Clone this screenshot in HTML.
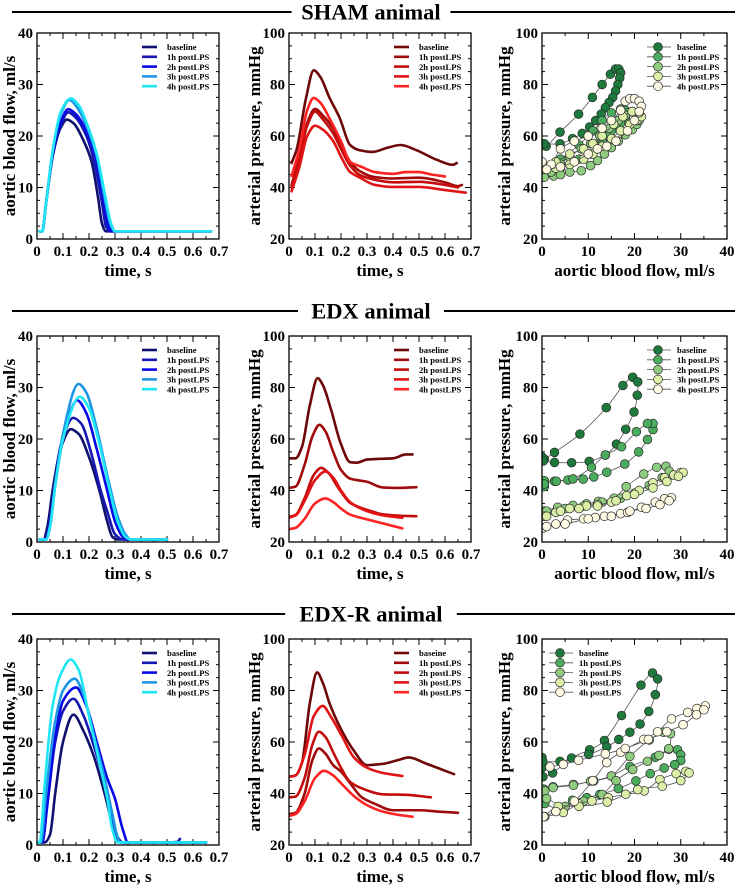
<!DOCTYPE html>
<html><head><meta charset="utf-8">
<style>
html,body{margin:0;padding:0;background:#fff;}
svg{display:block;font-family:"Liberation Serif",serif;font-weight:bold;}
</style></head>
<body>
<svg id="fig" width="742" height="886" viewBox="0 0 742 886" xmlns="http://www.w3.org/2000/svg"></svg>
<script>
// ---------- DATA ----------
const seriesNames = ["baseline","1h postLPS","2h postLPS","3h postLPS","4h postLPS"];
const seriesNamesR = ["baseine","1h postLPS","2h postLPS","3h postLPS","4h postLPS"];
const flowTicksX = [0,0.1,0.2,0.3,0.4,0.5,0.6,0.7];
const flowTicksY = [0,10,20,30,40];
const presTicksY = [20,40,60,80,100];
const loopTicksX = [0,10,20,30,40];

// SHAM flow [t, ml/s]
const shamFlowBase = [[0.01,1.5],[0.02,1.5],[0.035,7],[0.06,16],[0.09,21.5],[0.115,23.2],[0.14,22.5],[0.18,19],[0.21,15],[0.235,8],[0.25,3],[0.265,1.5],[0.67,1.5]];
const shamFlow1h = [[0.01,1.5],[0.02,1.5],[0.035,7],[0.06,16],[0.09,22],[0.12,24.6],[0.15,23.5],[0.19,20],[0.22,15],[0.25,7],[0.265,2.5],[0.28,1.5],[0.67,1.5]];
const shamFlow2h = [[0.01,1.5],[0.02,1.5],[0.035,7],[0.06,16.5],[0.09,22.5],[0.12,25.2],[0.15,24.2],[0.19,21],[0.225,16],[0.255,8],[0.275,2.5],[0.29,1.5],[0.67,1.5]];
const shamFlow3h = [[0.01,1.5],[0.02,1.5],[0.035,7],[0.06,17],[0.09,24],[0.125,27],[0.155,25.5],[0.19,22],[0.23,16],[0.26,8],[0.285,2.5],[0.3,1.5],[0.67,1.5]];
const shamFlow4h = [[0.01,1.5],[0.02,1.5],[0.035,7],[0.06,17],[0.09,24.5],[0.13,27.3],[0.16,26],[0.195,22],[0.23,16.5],[0.26,9],[0.285,3],[0.3,1.5],[0.67,1.5]];
// EDX flow
const edxFlowBase = [[0.01,0.5],[0.025,0.5],[0.04,3],[0.06,10],[0.09,18],[0.13,21.9],[0.16,21],[0.2,16.5],[0.24,10],[0.27,4],[0.29,1],[0.31,0.5],[0.5,0.5]];
const edxFlow1h = [[0.01,0.5],[0.03,0.5],[0.045,3],[0.065,10],[0.09,18.5],[0.14,24.1],[0.17,23],[0.21,17],[0.245,10],[0.27,6],[0.3,1.5],[0.33,0.5],[0.5,0.5]];
const edxFlow2h = [[0.01,0.5],[0.035,0.5],[0.05,3],[0.07,11],[0.1,20],[0.155,27.5],[0.19,25],[0.23,18],[0.27,10],[0.3,4],[0.33,1],[0.35,0.5],[0.5,0.5]];
const edxFlow3h = [[0.01,0.5],[0.035,0.5],[0.05,3],[0.07,11],[0.1,21],[0.16,30.7],[0.19,29],[0.23,22],[0.27,13],[0.31,5],[0.34,1.5],[0.36,0.5],[0.5,0.5]];
const edxFlow4h = [[0.01,0.5],[0.035,0.5],[0.05,3],[0.07,11],[0.1,20],[0.165,28.2],[0.2,26],[0.24,19],[0.28,10],[0.31,4],[0.34,1],[0.36,0.5],[0.5,0.5]];
// EDX-R flow
const edxrFlowBase = [[0,0.5],[0.03,0.5],[0.05,2],[0.07,10],[0.1,20],[0.14,25.3],[0.18,22],[0.22,17],[0.26,10],[0.29,4],[0.31,1],[0.33,0.5],[0.65,0.5]];
const edxrFlow1h = [[0,0.5],[0.02,0.5],[0.04,8],[0.07,20],[0.1,26],[0.14,28.4],[0.18,25],[0.22,19],[0.26,12],[0.29,5],[0.31,1.5],[0.33,0.5],[0.5,0.5],[0.54,0.6],[0.55,1.2]];
const edxrFlow2h = [[0,0.5],[0.02,0.5],[0.04,8],[0.07,21],[0.1,28],[0.15,30.6],[0.19,27],[0.23,20],[0.27,13],[0.3,9],[0.33,3],[0.35,0.5],[0.65,0.5]];
const edxrFlow3h = [[0,0.5],[0.015,0.5],[0.035,10],[0.07,24],[0.1,30],[0.145,32.3],[0.18,29],[0.22,21],[0.26,13],[0.29,6],[0.31,1.5],[0.32,0.5],[0.65,0.5]];
const edxrFlow4h = [[0,0.5],[0.01,0.5],[0.03,12],[0.06,27],[0.09,33],[0.13,36],[0.16,34],[0.2,25],[0.24,16],[0.27,9],[0.29,3],[0.31,0.5],[0.65,0.5]];

// SHAM pressure [t, mmHg]
const shamPresBase = [[0.01,49.5],[0.03,55],[0.065,74.5],[0.095,85.5],[0.12,83],[0.155,75],[0.195,67],[0.235,56.5],[0.27,54.5],[0.32,53.8],[0.38,55.5],[0.43,56.5],[0.49,54.5],[0.57,50.7],[0.63,48.8],[0.645,49.5]];
const shamPres1h = [[0.01,40],[0.04,50],[0.07,65],[0.1,70.5],[0.13,68],[0.17,63],[0.2,57],[0.235,50],[0.27,46.5],[0.33,44],[0.4,43.5],[0.5,43.8],[0.6,42],[0.65,40.5],[0.665,41]];
const shamPres2h = [[0.01,41],[0.04,52],[0.07,64],[0.1,69.5],[0.13,66.5],[0.17,61],[0.2,55],[0.235,48.5],[0.27,45],[0.33,43],[0.4,42],[0.5,42.2],[0.6,41],[0.65,40]];
const shamPres3h = [[0.01,38.5],[0.04,48],[0.07,60],[0.1,64],[0.13,62.5],[0.17,58],[0.2,52],[0.235,46],[0.27,44],[0.33,41],[0.4,40.2],[0.5,40.2],[0.6,39],[0.68,38]];
const shamPres4h = [[0.01,44.5],[0.04,55],[0.07,70],[0.095,74.8],[0.12,73],[0.16,66],[0.2,58],[0.235,50],[0.28,48],[0.33,46],[0.4,45.3],[0.45,46],[0.5,46],[0.55,45],[0.6,44.3]];
// EDX pressure
const edxPresBase = [[0,52.5],[0.025,52.5],[0.05,57],[0.08,73],[0.11,83.6],[0.13,81],[0.16,72],[0.2,58],[0.235,51],[0.26,50.8],[0.3,52],[0.35,52.3],[0.4,52.5],[0.45,54],[0.475,54]];
const edxPres1h = [[0,41],[0.025,41.5],[0.06,50],[0.09,61],[0.117,65.5],[0.14,63],[0.17,55],[0.2,48],[0.235,44.6],[0.3,43.4],[0.36,41.2],[0.42,41],[0.49,41.3]];
const edxPres2h = [[0,29.7],[0.025,30.5],[0.06,37],[0.095,46],[0.124,48.8],[0.15,47],[0.19,41],[0.235,35.2],[0.3,32.5],[0.364,30.7],[0.43,30.2],[0.49,30]];
const edxPres3h = [[0,29.5],[0.025,30.3],[0.06,36],[0.1,44],[0.14,47.4],[0.17,45],[0.2,40],[0.235,35.5],[0.3,32],[0.364,30.3],[0.436,29.4]];
const edxPres4h = [[0,25],[0.025,25.5],[0.06,29],[0.1,35],[0.14,36.9],[0.17,35.5],[0.2,33],[0.234,30.7],[0.3,28.8],[0.37,27],[0.436,25.3]];
// EDX-R pressure
const edxrPresBase = [[0,46.5],[0.025,47],[0.05,52],[0.08,75],[0.108,87],[0.13,83],[0.156,75],[0.195,66],[0.247,57],[0.3,51],[0.36,51.5],[0.42,53],[0.46,54],[0.53,51.5],[0.635,47.5]];
const edxrPres1h = [[0,32],[0.025,32.5],[0.06,40],[0.09,53],[0.115,57.5],[0.14,55.5],[0.17,51],[0.2,48.5],[0.235,44],[0.28,38.5],[0.33,36],[0.4,33.5],[0.5,33.5],[0.57,33],[0.65,32.5]];
const edxrPres2h = [[0,38.5],[0.025,38.8],[0.06,46],[0.09,59],[0.115,64],[0.14,62],[0.17,56],[0.2,50],[0.235,44.5],[0.28,42],[0.36,39.7],[0.45,39.5],[0.546,38.5]];
const edxrPres3h = [[0,46.5],[0.025,47],[0.06,55],[0.095,70],[0.13,74],[0.16,70],[0.2,63],[0.25,54],[0.3,50],[0.36,48],[0.436,46.8]];
const edxrPres4h = [[0,31.3],[0.025,32],[0.06,37],[0.1,46],[0.135,48.8],[0.17,47],[0.2,44],[0.25,39],[0.3,35.5],[0.36,33],[0.42,31.7],[0.475,31]];

// SHAM loops [flow ml/s, pressure mmHg]
const shamLoopBase = [[0,57],[0.9,56],[3.9,61.5],[7.9,68.5],[10.9,75],[13,80],[14.8,84],[15.9,86],[16.6,86],[17,84.5],[16.8,82.5],[16.4,80],[15.9,77.5],[15.3,75],[14.5,73],[13.7,71],[12.8,68.5],[11.6,66],[10.3,63.5],[8.7,61],[6.6,59],[3.9,57],[0.5,57]];
const shamLoop1h = [[0,46],[1,47.5],[4,51],[8,56.5],[11,62],[13,66],[15,69],[17,70.5],[18,70],[18.5,69],[18,67],[17,65],[16,63.5],[15,62],[14,60],[13,58],[12,56],[10.5,53],[8,51],[6,49],[4,47.5],[1,47.5]];
const shamLoop2h = [[0.5,44],[2.5,44.5],[4,45],[6,46],[8.5,46.5],[10.5,48.5],[12,50.5],[13.5,53],[15,55.5],[16.5,58],[18,60.5],[19.5,62.5],[20.5,64.5],[21,66],[20.5,68],[19.5,69.5],[18,68],[16.5,66],[14.5,63],[12.5,60],[10.5,57],[8.5,55],[6,52],[4,49],[2,46]];
const shamLoop3h = [[0.5,47],[3,47.5],[6,49],[9,51],[11,53],[13,56],[15,59],[17,62],[19,64.5],[20.5,66],[21.5,67.5],[21,69],[19.5,69.5],[17.5,67.5],[15.5,64.5],[13,60],[11,57],[9,55],[6,53],[3,50],[0.5,48]];
const shamLoop4h = [[0,50],[2,49],[4,55],[7,58],[10,60],[13,63],[15,66],[17,70],[18,73.5],[19,74.5],[20,74.5],[21,73.5],[21.5,71.5],[21,69.5],[20,66],[18.5,62],[16,58],[14,56],[12,55],[10,53],[7,50],[4,48],[1,47]];
// EDX loops
const edxLoopBase = [[0,53],[0.5,52.2],[2.7,54.8],[8.2,61.9],[13.9,72.2],[17.5,80.8],[19.6,84],[20.7,82.2],[20.6,77],[19.9,70.5],[18.1,63.8],[16.1,58],[13.7,53.8],[10.2,51.3],[6.4,50.8],[2.7,50.9],[0.3,51.5]];
const edxLoop1h = [[0.5,41.5],[0.5,43.8],[2.7,43.6],[5.6,44.1],[8.9,44.4],[11.2,45.3],[14,47.1],[17.9,50.3],[20.9,55],[22.8,59.8],[24,63.7],[24,66],[22.8,66],[20.4,62.8],[17.2,57],[13.7,53.8],[10.7,49],[6.7,44.5],[3.1,43.6],[0.5,42.5]];
const edxLoop2h = [[0.5,32],[3.4,33.5],[6.7,34.2],[9.6,34.8],[12.2,35.8],[15.6,37],[18.2,41.5],[22,46.4],[24.8,49],[26.8,49.4],[27.5,47.5],[26,45],[23.2,42],[20,39],[17,37],[13,35.5],[9,34],[5,33],[1,32]];
const edxLoop3h = [[0.5,30],[3,31.5],[6,33],[9.6,34],[12,34.5],[15,35.5],[18.3,38],[21,40],[24,43],[26.5,45],[28.5,46],[30,47],[30.5,47],[29.5,45.5],[27,43.5],[24,41],[20,38.5],[16,36],[12,34],[8,33],[4,32],[1,30]];
const edxLoop4h = [[0.3,25.5],[3,27],[5.5,28.5],[9,29],[11.5,29.5],[13.5,30],[17,31],[18.5,31.5],[21.5,33.5],[24.5,35.5],[26.5,36.8],[28,37.2],[27.5,36],[25.5,34.5],[22.5,33],[19,32],[15,30],[10,29],[5,27],[1,26]];
// EDX-R loops
const edxrLoopBase = [[0,54],[0,50],[0.2,46.5],[2.3,48],[6.4,53.8],[10.3,57],[13.5,60.6],[17.2,70.3],[21.4,82.1],[23.9,86.8],[25,84.5],[24.5,78.4],[23.1,71.9],[21.2,67],[19,63.8],[16.6,61],[14,58.1],[10.1,55.2],[3.9,52.5],[0.2,52.5]];
const edxrLoop1h = [[0.4,41.7],[2.4,42.6],[6.8,43.5],[11.2,44.9],[15,46.8],[19,50.5],[24.5,54.1],[27.4,57.2],[29.3,57],[30,55],[30,52.8],[28.7,51.2],[26.4,49.9],[23.4,47.7],[20.3,44.9],[16.5,41.9],[12.5,39.6],[9.7,38.4],[6.6,37.4],[3.9,33.9],[0.6,36.1]];
const edxrLoop2h = [[0.6,41],[2.4,42.3],[6.8,43.2],[10.5,44.8],[15,46.8],[19,54.4],[23.2,60.8],[26.3,63.8],[27.8,63.2],[27.4,57.4],[25.3,54.8],[22.8,52.5],[19.6,49.3],[16,45],[13,39.6],[9,37],[5,35],[1,38]];
const edxrLoop3h = [[0.6,31],[4.6,32.6],[7.9,36],[10.8,37.1],[14.3,38.4],[18.1,39.7],[22.1,41],[25.5,45.4],[29,47.7],[31.1,48.6],[31.8,48],[30,45],[26,42.8],[20.7,41.5],[14.1,36.7],[8,35],[3.5,35],[0.4,31]];
const edxrLoop4h = [[0.4,31],[3,33],[7,37],[11,45],[14,52],[17,56],[22,61],[25,64],[28,69],[31.5,71.5],[33.5,73],[35.3,74],[35,72.5],[33.4,70.6],[30.5,66.7],[27,64],[23,61],[18,57.5],[13.7,55.4],[7.9,52.9],[4.6,51.3],[1.7,50.3]];

const flowColors = ["#10106e","#1717b4","#0808e6","#1e96e6","#1ee6f5"];
const presColors = ["#6e0808","#a00a0a","#c40c0c","#e01414","#ff2222"];
const loopColors = ["#1e7a3c","#4aac5c","#90cc80","#dcefa6","#fffae4"];

// ---------- DRAW ----------
const NS = "http://www.w3.org/2000/svg";
const svg = document.getElementById("fig");
function mk(tag, attrs, parent){
  const e = document.createElementNS(NS, tag);
  for (const k in attrs) e.setAttribute(k, attrs[k]);
  (parent||svg).appendChild(e);
  return e;
}
function smoothPath(pts){
  if (pts.length < 2) return "";
  let d = "M" + pts[0][0].toFixed(2) + "," + pts[0][1].toFixed(2);
  for (let i=0;i<pts.length-1;i++){
    const p0 = pts[i-1]||pts[i], p1 = pts[i], p2 = pts[i+1], p3 = pts[i+2]||p2;
    const c1x = p1[0]+(p2[0]-p0[0])/6, c1y = p1[1]+(p2[1]-p0[1])/6;
    const c2x = p2[0]-(p3[0]-p1[0])/6, c2y = p2[1]-(p3[1]-p1[1])/6;
    d += " C"+c1x.toFixed(2)+","+c1y.toFixed(2)+" "+c2x.toFixed(2)+","+c2y.toFixed(2)+" "+p2[0].toFixed(2)+","+p2[1].toFixed(2);
  }
  return d;
}
function monoPath(pts){
  const n = pts.length;
  if (n < 2) return "";
  const dx=[], s=[];
  for (let i=0;i<n-1;i++){ dx[i]=pts[i+1][0]-pts[i][0]; s[i]=(pts[i+1][1]-pts[i][1])/dx[i]; }
  const m=[s[0]];
  for (let i=1;i<n-1;i++){
    if (s[i-1]*s[i] <= 0) m[i]=0;
    else { const w1=2*dx[i]+dx[i-1], w2=dx[i]+2*dx[i-1]; m[i]=(w1+w2)/(w1/s[i-1]+w2/s[i]); }
  }
  m[n-1]=s[n-2];
  let d = "M"+pts[0][0].toFixed(2)+","+pts[0][1].toFixed(2);
  for (let i=0;i<n-1;i++){
    const h=dx[i]/3;
    d += " C"+(pts[i][0]+h).toFixed(2)+","+(pts[i][1]+m[i]*h).toFixed(2)+" "+(pts[i+1][0]-h).toFixed(2)+","+(pts[i+1][1]-m[i+1]*h).toFixed(2)+" "+pts[i+1][0].toFixed(2)+","+pts[i+1][1].toFixed(2);
  }
  return d;
}

function sectionTitle(text, y, key){
  const ln = mk("line",{x1:12,y1:y,x2:735,y2:y,stroke:"#000","stroke-width":2});
  
  
  const w = text.length*12.8+18;
  mk("rect",{x:371-w/2,y:y-13,width:w,height:26,fill:"#fff"});
  const t = mk("text",{x:371,y:y+7.5,"text-anchor":"middle","font-size":22.5});
  t.textContent = text;
  
  
}

function panel(o){
  const g = mk("g",{});
  
  
  const L=o.x, T=o.y, W=o.w, H=o.h;
  const sx = v => L + (v-o.xmin)/(o.xmax-o.xmin)*W;
  const sy = v => T + H - (v-o.ymin)/(o.ymax-o.ymin)*H;
  const cid = "c"+o.name;
  const cp = mk("clipPath",{id:cid},g); mk("rect",{x:L,y:T,width:W,height:H},cp);
  for (let v=o.xmin; v<=o.xmax+1e-9; v+=o.xminor){
    const X=sx(v);
    const isMaj = o.xt.some(t=>Math.abs(t-v)<1e-9);
    const len = isMaj?6:3;
    mk("line",{x1:X,y1:T+H,x2:X,y2:T+H-len,stroke:"#000","stroke-width":1},g);
    mk("line",{x1:X,y1:T,x2:X,y2:T+len,stroke:"#000","stroke-width":1},g);
  }
  for (let v=o.ymin; v<=o.ymax+1e-9; v+=o.yminor){
    const Y=sy(v);
    const isMaj = o.yt.some(t=>Math.abs(t-v)<1e-9);
    const len = isMaj?6:3;
    mk("line",{x1:L,y1:Y,x2:L+len,y2:Y,stroke:"#000","stroke-width":1},g);
    mk("line",{x1:L+W,y1:Y,x2:L+W-len,y2:Y,stroke:"#000","stroke-width":1},g);
  }
  o.xt.forEach((v,i)=>{
    const t = mk("text",{x:sx(v),y:T+H+17,"text-anchor":"middle","font-size":15},g);
    t.textContent = o.xtl[i];
    
    
  });
  o.yt.forEach(v=>{
    const t = mk("text",{x:L-4,y:sy(v)+5,"text-anchor":"end","font-size":15},g);
    t.textContent = String(v);
    
    
  });
  const xt = mk("text",{x:L+W/2,y:T+H+37,"text-anchor":"middle","font-size":17},g);
  xt.textContent = o.xlabel;
  
  
  const yx = o.ylx, yy = T+H/2;
  const yt = mk("text",{x:yx,y:yy,"text-anchor":"middle","font-size":17,transform:"rotate(-90 "+yx+" "+yy+")"},g);
  yt.textContent = o.ylabel;
  
  
  const sg = mk("g",{"clip-path":"url(#"+cid+")"},g);
  o.series.forEach((s,i)=>{
    const pts = s.map(p=>[sx(p[0]),sy(p[1])]);
    if (o.loop){
      const pl = mk("path",{d:smoothPath(pts),fill:"none",stroke:"#555","stroke-width":0.8},sg);
      
      
      pts.forEach(p=>{
        const c = mk("circle",{cx:p[0],cy:p[1],r:4.4,fill:o.colors[i],stroke:"#2a2a2a","stroke-width":0.7},sg);
        
        
      });
    } else {
      const pl = mk("path",{d:monoPath(pts),fill:"none",stroke:o.colors[i],"stroke-width":2.6,"stroke-linejoin":"round","stroke-linecap":"round"},sg);
      
      
    }
  });
  const fr = mk("rect",{x:L,y:T,width:W,height:H,fill:"none",stroke:"#000","stroke-width":1.3},g);
  
  
  const lg = mk("g",{},g);
  
  
  o.legend.forEach((nm,i)=>{
    const y = T+14+i*9.8;
    const e = mk("g",{},lg);
    
    
    if (o.loop){
      mk("line",{x1:L+o.lgx,y1:y,x2:L+o.lgx+24,y2:y,stroke:"#555","stroke-width":0.8},e);
      mk("circle",{cx:L+o.lgx+11,cy:y,r:4.4,fill:o.colors[i],stroke:"#2a2a2a","stroke-width":0.7},e);
      const t = mk("text",{x:L+o.lgx+30,y:y+3.2,"font-size":8.6},e); t.textContent = nm;
    } else {
      mk("line",{x1:L+o.lgx,y1:y,x2:L+o.lgx+15,y2:y,stroke:o.colors[i],"stroke-width":2.6},e);
      const t = mk("text",{x:L+o.lgx+25,y:y+3.2,"font-size":8.6},e); t.textContent = nm;
    }
  });
}

const rows = [
  {key:"sham", title:"SHAM animal", ty:12, top:33,
   flow:[shamFlowBase,shamFlow1h,shamFlow2h,shamFlow3h,shamFlow4h],
   pres:[shamPresBase,shamPres1h,shamPres2h,shamPres3h,shamPres4h],
   loop:[shamLoopBase,shamLoop1h,shamLoop2h,shamLoop3h,shamLoop4h], loopLgx:105, presLeg:seriesNames},
  {key:"edx", title:"EDX animal", ty:311, top:336,
   flow:[edxFlowBase,edxFlow1h,edxFlow2h,edxFlow3h,edxFlow4h],
   pres:[edxPresBase,edxPres1h,edxPres2h,edxPres3h,edxPres4h],
   loop:[edxLoopBase,edxLoop1h,edxLoop2h,edxLoop3h,edxLoop4h], loopLgx:105, presLeg:seriesNames},
  {key:"edxr", title:"EDX-R animal", ty:614, top:639,
   flow:[edxrFlowBase,edxrFlow1h,edxrFlow2h,edxrFlow3h,edxrFlow4h],
   pres:[edxrPresBase,edxrPres1h,edxrPres2h,edxrPres3h,edxrPres4h],
   loop:[edxrLoopBase,edxrLoop1h,edxrLoop2h,edxrLoop3h,edxrLoop4h], loopLgx:7, presLeg:seriesNamesR}
];
const tlab = flowTicksX.map(v=>v===0?"0":String(v));
rows.forEach(r=>{
  sectionTitle(r.title, r.ty, r.key);
  panel({name:r.key+"-flow-chart",x:37,y:r.top,w:182,h:206,xmin:0,xmax:0.7,ymin:0,ymax:40,
    xt:flowTicksX,xtl:tlab,yt:flowTicksY,xminor:0.05,yminor:2.5,
    xlabel:"time, s",ylabel:"aortic blood flow, ml/s",ylx:15,
    series:r.flow,colors:flowColors,legend:seriesNames,lgx:105});
  panel({name:r.key+"-pressure-chart",x:289,y:r.top,w:182,h:206,xmin:0,xmax:0.7,ymin:20,ymax:100,
    xt:flowTicksX,xtl:tlab,yt:presTicksY,xminor:0.05,yminor:5,
    xlabel:"time, s",ylabel:"arterial pressure, mmHg",ylx:260,
    series:r.pres,colors:presColors,legend:r.presLeg,lgx:105});
  panel({name:r.key+"-loop-chart",x:542,y:r.top,w:185,h:206,xmin:0,xmax:40,ymin:20,ymax:100,
    xt:loopTicksX,xtl:loopTicksX.map(String),yt:presTicksY,xminor:5,yminor:5,
    xlabel:"aortic blood flow, ml/s",ylabel:"arterial pressure, mmHg",ylx:510,
    series:r.loop,colors:loopColors,legend:seriesNames,lgx:r.loopLgx,loop:true});
});
</script>
</body></html>
